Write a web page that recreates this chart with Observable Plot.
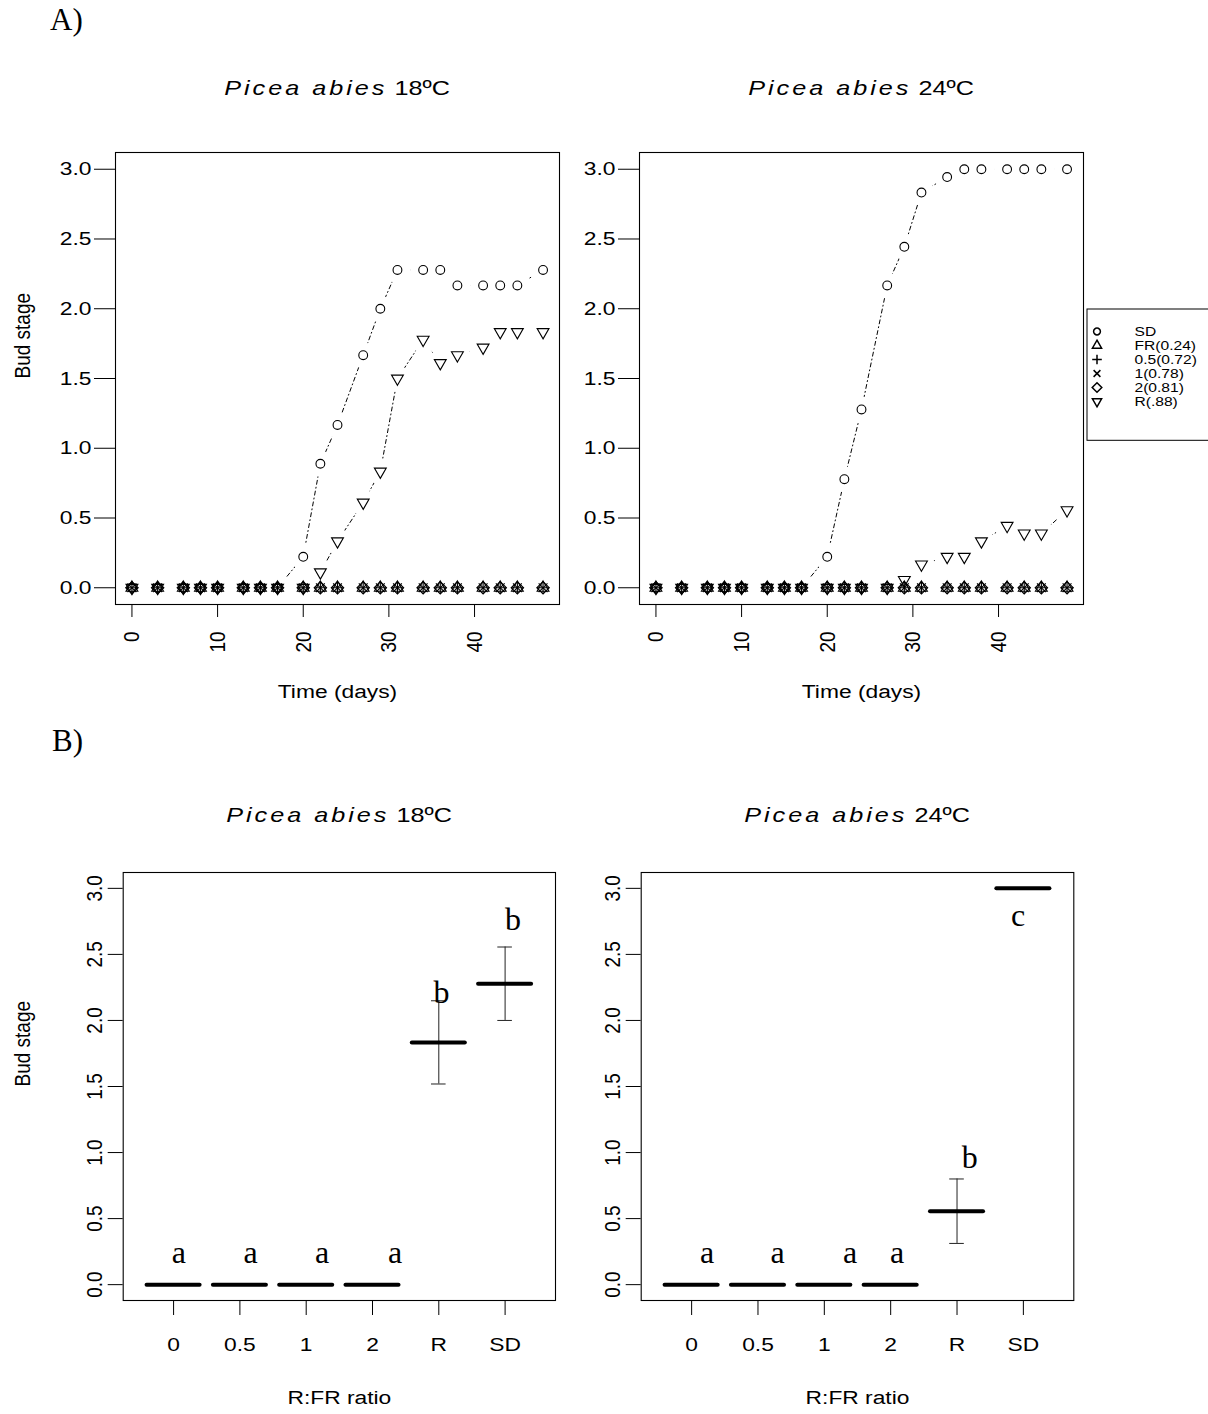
<!DOCTYPE html>
<html>
<head>
<meta charset="utf-8">
<script src="https://cdn.jsdelivr.net/npm/d3@7"></script>
<script src="https://cdn.jsdelivr.net/npm/@observablehq/plot@0.6"></script>
<style>
  body { margin: 0; background: #fff; }
  #root { position: relative; width: 1208px; height: 1414px; overflow: hidden; background: #fff;
          font-family: "Liberation Sans", Arial, sans-serif; color: #000; }
  .abs { position: absolute; }
  .title { text-align: center; white-space: nowrap; }
  .title span { display: inline-block; transform: scaleX(1.2); transform-origin: center; font-size: 21px; }
  .tag { font-family: "Liberation Serif", "Times New Roman", serif; font-size: 31px; white-space: nowrap; line-height: 31px; }
</style>
</head>
<body>
<div id="root"></div>
<script>
// ---------------- data ----------------
const days = [0, 3, 6, 8, 10, 13, 15, 17, 20, 22, 24, 27, 29, 31, 34, 36, 38, 41, 43, 45, 48];
const seriesNames = ["SD", "FR(0.24)", "0.5(0.72)", "1(0.78)", "2(0.81)", "R(.88)"];
const linedSeries = ["SD", "R(.88)"];

// 18 ºC
const sd18  = [0, 0, 0, 0, 0, 0, 0, 0, 0.222, 0.889, 1.167, 1.667, 2.0, 2.278, 2.278, 2.278, 2.167, 2.167, 2.167, 2.167, 2.278];
const fr18  = [0, 0, 0, 0, 0, 0, 0, 0, 0, 0, 0, 0, 0, 0, 0, 0, 0, 0, 0, 0, 0];
const p05_18 = [0, 0, 0, 0, 0, 0, 0, 0, 0, 0, 0, 0, 0, 0, 0, 0, 0, 0, 0, 0, 0];
const p1_18 = [0, 0, 0, 0, 0, 0, 0, 0, 0, 0, 0, 0, 0, 0, 0, 0, 0, 0, 0, 0, 0];
const p2_18 = [0, 0, 0, 0, 0, 0, 0, 0, 0, 0, 0, 0, 0, 0, 0, 0, 0, 0, 0, 0, 0];
const r18   = [0, 0, 0, 0, 0, 0, 0, 0, 0, 0.111, 0.333, 0.611, 0.833, 1.5, 1.778, 1.611, 1.667, 1.722, 1.833, 1.833, 1.833];

// 24 ºC
const sd24  = [0, 0, 0, 0, 0, 0, 0, 0, 0.222, 0.778, 1.278, 2.167, 2.444, 2.833, 2.944, 3, 3, 3, 3, 3, 3];
const fr24  = [0, 0, 0, 0, 0, 0, 0, 0, 0, 0, 0, 0, 0, 0, 0, 0, 0, 0, 0, 0, 0];
const p05_24 = [0, 0, 0, 0, 0, 0, 0, 0, 0, 0, 0, 0, 0, 0, 0, 0, 0, 0, 0, 0, 0];
const p1_24 = [0, 0, 0, 0, 0, 0, 0, 0, 0, 0, 0, 0, 0, 0, 0, 0, 0, 0, 0, 0, 0];
const p2_24 = [0, 0, 0, 0, 0, 0, 0, 0, 0, 0, 0, 0, 0, 0, 0, 0, 0, 0, 0, 0, 0];
const r24   = [0, 0, 0, 0, 0, 0, 0, 0, 0, 0, 0, 0, 0.056, 0.167, 0.222, 0.222, 0.333, 0.444, 0.389, 0.389, 0.556];

// panel B
const ratioCats = ["0", "0.5", "1", "2", "R", "SD"];
const ratioPos  = [1, 2, 3, 4, 5, 6];
const mean18 = [0, 0, 0, 0, 1.834, 2.278];
const se18   = [0, 0, 0, 0, 0.315, 0.278];
const mean24 = [0, 0, 0, 0, 0.556, 3.0];
const se24   = [0, 0, 0, 0, 0.244, 0];
const letters18 = ["a", "a", "a", "a", "b", "b"];
const letterX18 = [1.08, 2.16, 3.24, 4.34, 5.04, 6.12];
const letterY18 = [0.24, 0.24, 0.24, 0.24, 2.21, 2.76];
const letters24 = ["a", "a", "a", "a", "b", "c"];
const letterX24 = [1.235, 2.295, 3.39, 4.095, 5.19, 5.92];
const letterY24 = [0.24, 0.24, 0.24, 0.24, 0.96, 2.79];

// tick labels and texts
const yTicks = [0, 0.5, 1, 1.5, 2, 2.5, 3];
const dayTicks = [0, 10, 20, 30, 40];
const species = "Picea abies";
const temps = ["18ºC", "24ºC"];
const panelTags = ["A)", "B)"];
const yLabel = "Bud stage";
const xLabelTime = "Time (days)";
const xLabelRatio = "R:FR ratio";

// ---------------- symbols (R pch 1,2,3,4,5,6) ----------------
function sym(fn) { return { draw(ctx, size) { fn(ctx, Math.sqrt(size / Math.PI)); } }; }
const symCircle = sym((c, r) => { c.moveTo(r, 0); c.arc(0, 0, r, 0, 2 * Math.PI); c.closePath(); });
const symTriUp = sym((c, r) => { const h = 1.555 * r, w = 1.347 * r, b = 0.778 * r;
  c.moveTo(0, -h); c.lineTo(w, b); c.lineTo(-w, b); c.closePath(); });
const symPlus = sym((c, r) => { const a = Math.SQRT2 * r; c.moveTo(-a, 0); c.lineTo(a, 0); c.moveTo(0, -a); c.lineTo(0, a); });
const symTimes = sym((c, r) => { c.moveTo(-r, -r); c.lineTo(r, r); c.moveTo(-r, r); c.lineTo(r, -r); });
const symDiamond = sym((c, r) => { const a = Math.SQRT2 * r;
  c.moveTo(0, -a); c.lineTo(a, 0); c.lineTo(0, a); c.lineTo(-a, 0); c.closePath(); });
const symTriDown = sym((c, r) => { const h = 1.555 * r, w = 1.347 * r, b = 0.778 * r;
  c.moveTo(0, h); c.lineTo(w, -b); c.lineTo(-w, -b); c.closePath(); });
const symbolRange = [symCircle, symTriUp, symPlus, symTimes, symDiamond, symTriDown];

// ---------------- helpers ----------------
const root = document.getElementById("root");
const FONT = "'Liberation Sans', Arial, sans-serif";
const STRETCH = 1.2;

function place(el, left, top) {
  el.style.position = "absolute"; el.style.left = left + "px"; el.style.top = top + "px";
  root.append(el);
}
// widen sans-serif text horizontally (page direction), like the reference rendering
function stretch(svg) {
  svg.querySelectorAll("text").forEach(t => {
    if (t.closest('[font-family*="Serif"]')) return;
    const tr = t.getAttribute("transform") || "";
    const m = tr.match(/^(translate\([^)]*\))(.*)$/);
    if (m) t.setAttribute("transform", `${m[1]} scale(${STRETCH},1)${m[2]}`);
  });
}
function seriesRows(list) {
  return seriesNames.flatMap((s, k) => days.map((d, i) => ({ series: s, day: d, value: list[k][i] })));
}
function lineRows(rows) {
  return linedSeries.flatMap(s => {
    const r = rows.filter(o => o.series === s);
    const first = r.findIndex(o => o.value > 0);
    return r.slice(Math.max(0, first - 1));
  });
}

// ---------------- panel A ----------------
function timePanel(list, frameLeft, frameRight, withYLabel) {
  const rows = seriesRows(list);
  const lrows = lineRows(rows);
  const W = 1208, top = 130, frameTop = 152, frameBottom = 604, H = 600;
  const svg = Plot.plot({
    width: W, height: H,
    marginLeft: frameLeft, marginRight: W - frameRight,
    marginTop: frameTop - top, marginBottom: top + H - frameBottom,
    style: { background: "transparent", overflow: "visible", fontFamily: FONT, color: "black" },
    x: { domain: [-1.92, 49.92] },
    y: { domain: [-0.12, 3.12] },
    symbol: { domain: seriesNames, range: symbolRange },
    marks: [
      Plot.axisY({ ticks: yTicks, tickFormat: d3.format(".1f"), tickSize: 21, tickPadding: 3, fontSize: 19, label: null }),
      Plot.axisX({ ticks: dayTicks, tickSize: 13, tickPadding: 14, tickRotate: -90, fontSize: 19, label: null }),
      Plot.line(lrows, { x: "day", y: "value", z: "series", stroke: "black", strokeWidth: 1, strokeDasharray: "1,3,4,3" }),
      // gap around each vertex of the connected series (R type = "b")
      Plot.dot(lrows, { x: "day", y: "value", r: 13, fill: "white", stroke: null }),
      Plot.dot(rows, { x: "day", y: "value", symbol: "series", r: 4.4, fill: "none", stroke: "black", strokeWidth: 1.1 }),
      Plot.frame({ stroke: "black", strokeWidth: 1.1 }),
      Plot.text([xLabelTime], { text: d => d, frameAnchor: "bottom", dy: 93, fontSize: 19 }),
      ...(withYLabel ? [Plot.text([yLabel], { text: d => d, frameAnchor: "left", rotate: -90, dx: -(frameLeft - 22), fontSize: 19 })] : [])
    ]
  });
  stretch(svg);
  place(svg, 0, top);
}

// ---------------- panel B ----------------
function ratioPanel(means, ses, letters, lx, ly, frameLeft, frameRight, withYLabel) {
  const W = 1208, top = 840, frameTop = 872, frameBottom = 1300, H = 574;
  const BAR = 0.4, CAP = 0.11;
  const meanRows = ratioCats.map((c, i) => ({ cat: c, pos: ratioPos[i], mean: means[i] }));
  const errRows = ratioCats.map((c, i) => ({ cat: c, pos: ratioPos[i], lo: means[i] - ses[i], hi: means[i] + ses[i], se: ses[i] }))
    .filter(d => d.se > 0);
  const letterRows = letters.map((l, i) => ({ letter: l, x: lx[i], y: ly[i] }));
  const svg = Plot.plot({
    width: W, height: H,
    marginLeft: frameLeft, marginRight: W - frameRight,
    marginTop: frameTop - top, marginBottom: top + H - frameBottom,
    style: { background: "transparent", overflow: "visible", fontFamily: FONT, color: "black" },
    x: { domain: [0.24, 6.76] },
    y: { domain: [-0.12, 3.12] },
    marks: [
      Plot.axisY({ ticks: yTicks, tickFormat: d3.format(".1f"), tickSize: 15, tickPadding: 6, tickRotate: -90,
                   textAnchor: "middle", fontSize: 19, label: null }),
      Plot.axisX({ ticks: ratioPos, tickFormat: p => ratioCats[p - 1], tickSize: 15, tickPadding: 22, fontSize: 19, label: null }),
      Plot.ruleX(errRows, { x: "pos", y1: "lo", y2: "hi", stroke: "#222", strokeWidth: 1 }),
      Plot.ruleY(errRows, { y: "lo", x1: d => d.pos - CAP, x2: d => d.pos + CAP, stroke: "#222", strokeWidth: 1 }),
      Plot.ruleY(errRows, { y: "hi", x1: d => d.pos - CAP, x2: d => d.pos + CAP, stroke: "#222", strokeWidth: 1 }),
      Plot.ruleY(meanRows, { y: "mean", x1: d => d.pos - BAR, x2: d => d.pos + BAR, stroke: "black", strokeWidth: 4, strokeLinecap: "round" }),
      Plot.text(letterRows, { x: "x", y: "y", text: "letter", fontFamily: "'Liberation Serif', 'Times New Roman', serif", fontSize: 32 }),
      Plot.frame({ stroke: "black", strokeWidth: 1.1 }),
      Plot.text([xLabelRatio], { text: d => d, frameAnchor: "bottom", dy: 103, fontSize: 19 }),
      ...(withYLabel ? [Plot.text([yLabel], { text: d => d, frameAnchor: "left", rotate: -90, dx: -(frameLeft - 22), fontSize: 19 })] : [])
    ]
  });
  stretch(svg);
  place(svg, 0, top);
}

// ---------------- legend ----------------
function legend() {
  const svg = Plot.plot({
    width: 140, height: 135,
    marginTop: 22, marginBottom: 41.5, marginLeft: 0, marginRight: 0,
    style: { background: "transparent", overflow: "visible", fontFamily: FONT, color: "black" },
    y: { type: "point", domain: seriesNames, padding: 0, axis: null },
    symbol: { domain: seriesNames, range: symbolRange },
    marks: [
      Plot.frame({ stroke: "black", strokeWidth: 1, insetTop: -21.5, insetBottom: -38.3, insetLeft: 0.5 }),
      Plot.dot(seriesNames, { y: d => d, symbol: d => d, frameAnchor: "left", dx: 10.5, r: 3.4, fill: "none", stroke: "black" }),
      Plot.text(seriesNames, { y: d => d, text: d => d, frameAnchor: "left", dx: 48, textAnchor: "start", fontSize: 13 })
    ]
  });
  stretch(svg);
  place(svg, 1086, 307.5);
}

// ---------------- titles & tags ----------------
function title(cx, cy, temp) {
  const d = document.createElement("div");
  d.className = "abs title";
  d.style.left = (cx - 300) + "px"; d.style.width = "600px";
  d.style.top = (cy - 12) + "px"; d.style.lineHeight = "24px";
  const s = document.createElement("span");
  const it = document.createElement("i");
  it.textContent = species; it.style.letterSpacing = "2.5px";
  s.append(it, document.createTextNode(" " + temp));
  d.append(s);
  root.append(d);
}
function tag(text, left, baseline) {
  const d = document.createElement("div");
  d.className = "abs tag";
  d.style.left = left + "px"; d.style.top = (baseline - 26) + "px";
  d.textContent = text;
  root.append(d);
}

timePanel([sd18, fr18, p05_18, p1_18, p2_18, r18], 115, 559, true);
timePanel([sd24, fr24, p05_24, p1_24, p2_24, r24], 639, 1083, false);
ratioPanel(mean18, se18, letters18, letterX18, letterY18, 122.7, 555, true);
ratioPanel(mean24, se24, letters24, letterX24, letterY24, 640.7, 1073.3, false);
legend();
title(337, 88, temps[0]);
title(861, 88, temps[1]);
title(339, 815, temps[0]);
title(857, 815, temps[1]);
tag(panelTags[0], 50, 30);
tag(panelTags[1], 52, 751);
</script>
</body>
</html>
